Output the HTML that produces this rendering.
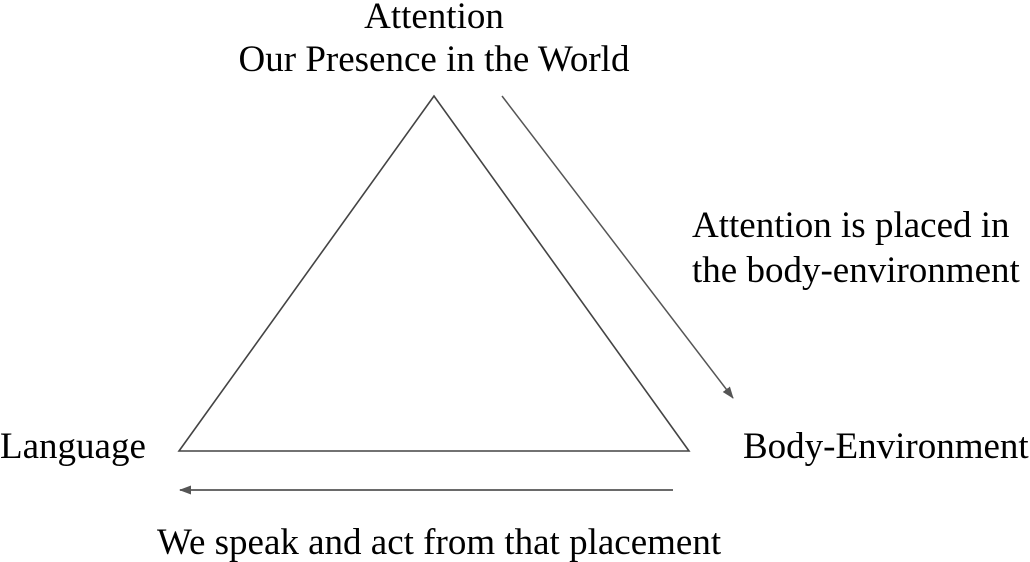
<!DOCTYPE html>
<html><head><style>
body{margin:0;background:#fff}
svg{display:block}
text{font-family:"Liberation Serif",serif;font-size:37px;fill:#000}
</style></head><body>
<svg width="1030" height="562" viewBox="0 0 1030 562">
<defs><marker id="a" markerWidth="12" markerHeight="12" refX="11" refY="6" orient="auto" markerUnits="userSpaceOnUse"><path d="M0,1.5 L12,6 L0,10.5 Z" fill="#555"/></marker></defs>
<polygon points="434,96 179,451 689,451" fill="none" stroke="#444" stroke-width="1.6"/>
<line x1="502" y1="96" x2="733" y2="398" stroke="#555" stroke-width="1.5" marker-end="url(#a)"/>
<line x1="673" y1="490" x2="180" y2="490" stroke="#555" stroke-width="1.8" marker-end="url(#a)"/>
<text x="434" y="28" text-anchor="middle">Attention</text>
<text x="434" y="71" text-anchor="middle">Our Presence in the World</text>
<text x="692" y="237">Attention is placed in</text>
<text x="692" y="282">the body-environment</text>
<text x="0" y="458">Language</text>
<text x="743" y="458">Body-Environment</text>
<text x="157" y="554">We speak and act from that placement</text>
</svg>
</body></html>
